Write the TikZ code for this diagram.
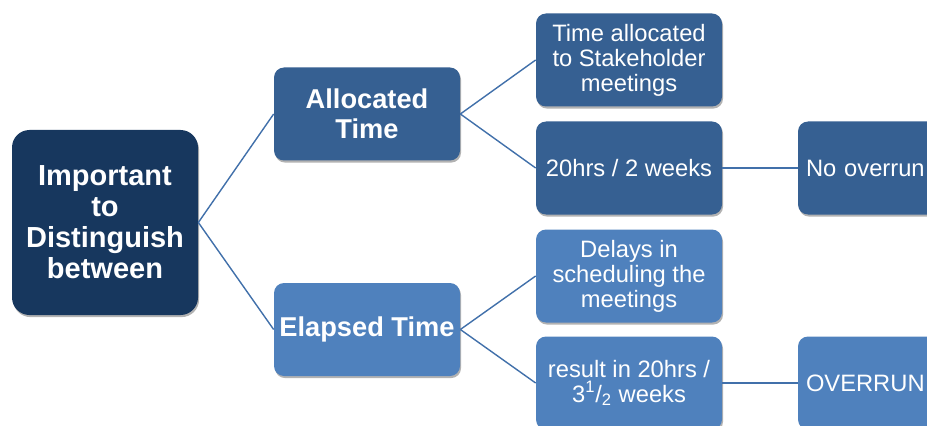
\documentclass[tikz,border=0pt]{standalone}
\usepackage{fontspec}
\setmainfont{Liberation Sans}
\usetikzlibrary{shadows}
\definecolor{navy}{HTML}{17375E}
\definecolor{darkfill}{HTML}{366092}
\definecolor{lightfill}{HTML}{4F81BD}
\definecolor{linkcol}{HTML}{4170AA}
\tikzset{
  box/.style={rounded corners=0.2cm,text=white,align=center,inner sep=2pt,
    minimum width=3.72cm,minimum height=1.86cm,
    drop shadow={shadow xshift=0.6pt,shadow yshift=-1.2pt,opacity=0.3,fill=black}},
  leaf/.style={box,font={\fontsize{13.5}{14.2}\selectfont}},
  endbox/.style={leaf,text width=3.4cm,inner xsep=4pt,align=left},
  mid/.style={box,font={\fontsize{15.5}{17}\selectfont\bfseries}},
  rootbox/.style={box,fill=navy,rounded corners=0.35cm,minimum height=3.7cm,
    font={\fontsize{16.5}{17.6}\selectfont\bfseries}},
  link/.style={draw=linkcol,line width=0.8pt}
}

\begin{document}
\begin{tikzpicture}
    \useasboundingbox (0cm,0cm) rectangle (18.54cm,-8.52cm);
    \clip (0cm,0cm) rectangle (18.54cm,-8.52cm);

    \node[rootbox] (root) at (2.1cm,-4.45cm) {Important\\ to\\ Distinguish\\ between};

    \node[mid,fill=darkfill] (alloc) at (7.34cm,-2.28cm) {Allocated\\ Time};
    \node[mid,fill=lightfill] (elapsed) at (7.34cm,-6.59cm) {Elapsed Time};

    \node[leaf,fill=darkfill] (stake) at (12.58cm,-1.2cm) {Time allocated\\ to Stakeholder\\ meetings};
    \node[leaf,fill=darkfill] (twoweeks) at (12.58cm,-3.36cm) {20hrs / 2 weeks};
    \node[leaf,fill=lightfill] (delays) at (12.58cm,-5.52cm) {Delays in\\ scheduling the\\ meetings};
    \node[leaf,fill=lightfill] (result) at (12.58cm,-7.66cm) {result in 20hrs /\\ 3\textsuperscript{1}/\textsubscript{2} weeks};

    \node[endbox,fill=darkfill] (noover) at (17.82cm,-3.36cm) {No overrun};
    \node[endbox,fill=lightfill] (over) at (17.82cm,-7.66cm) {OVERRUN};

    \draw[link] (root.east) -- (alloc.west);
    \draw[link] (root.east) -- (elapsed.west);
    \draw[link] (alloc.east) -- (stake.west);
    \draw[link] (alloc.east) -- (twoweeks.west);
    \draw[link] (elapsed.east) -- (delays.west);
    \draw[link] (elapsed.east) -- (result.west);
    \draw[link] (twoweeks.east) -- (noover.west);
    \draw[link] (result.east) -- (over.west);
\end{tikzpicture}
\end{document}
